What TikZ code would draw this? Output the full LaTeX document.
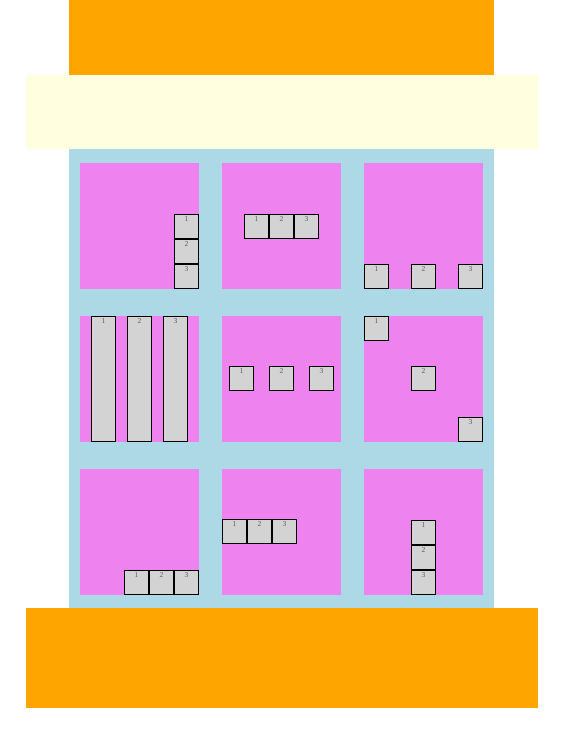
\documentclass[tikz,border=0pt]{standalone}
\usepackage{fontspec}
\setmainfont{Liberation Serif}
\usepackage{tikz}
\usetikzlibrary{positioning}
\definecolor{myorange}{RGB}{255,165,0}
\definecolor{myyellow}{RGB}{255,255,224}
\definecolor{myblue}{RGB}{173,216,230}
\definecolor{myviolet}{RGB}{238,130,238}
\definecolor{mygray}{RGB}{211,211,211}
\definecolor{mytext}{RGB}{90,90,100}
\tikzset{
  panel/.style={rectangle, fill=myviolet, anchor=north west,
    minimum width=119pt, minimum height=126pt, inner sep=0pt, outer sep=0pt},
  item/.style={rectangle, draw=black, fill=mygray, line width=1pt,
    minimum width=24pt, minimum height=24pt, inner sep=0pt, outer sep=0pt,
    anchor=north west, xshift=0.5pt, yshift=-0.5pt},
  tallitem/.style={item, minimum height=125pt},
  numlbl/.style={anchor=north, inner sep=2pt, text=mytext,
    font=\fontsize{7.5}{8}\selectfont}
}
\begin{document}
\begin{tikzpicture}[x=1pt,y=-1pt]
  \useasboundingbox (0,0) rectangle (566,753);

  % Page bands
  \fill[myorange] (69,0) rectangle (494,75);
  \fill[myyellow] (26,75) rectangle (538,149);
  \fill[myblue] (69,149) rectangle (494,608);
  \fill[myorange] (26,608) rectangle (538,708);

  % Panels
  \foreach \r/\y in {1/163, 2/316, 3/469}
    \foreach \c/\x in {1/80, 2/222, 3/364}
      \node[panel] (p\r\c) at (\x,\y) {};

  % Row 1
  \foreach \n/\x/\y in {1/174/214, 2/174/239, 3/174/264}
    \node[item, label={[numlbl]north:\n}] (a\n) at (\x,\y) {};
  \foreach \n/\x/\y in {1/244/214, 2/269/214, 3/294/214}
    \node[item, label={[numlbl]north:\n}] (b\n) at (\x,\y) {};
  \foreach \n/\x/\y in {1/364/264, 2/411/264, 3/458/264}
    \node[item, label={[numlbl]north:\n}] (c\n) at (\x,\y) {};

  % Row 2
  \foreach \n/\x/\y in {1/91/316, 2/127/316, 3/163/316}
    \node[tallitem, label={[numlbl]north:\n}] (d\n) at (\x,\y) {};
  \foreach \n/\x/\y in {1/229/366, 2/269/366, 3/309/366}
    \node[item, label={[numlbl]north:\n}] (e\n) at (\x,\y) {};
  \foreach \n/\x/\y in {1/364/316, 2/411/366, 3/458/417}
    \node[item, label={[numlbl]north:\n}] (f\n) at (\x,\y) {};

  % Row 3
  \foreach \n/\x/\y in {1/124/570, 2/149/570, 3/174/570}
    \node[item, label={[numlbl]north:\n}] (g\n) at (\x,\y) {};
  \foreach \n/\x/\y in {1/222/519, 2/247/519, 3/272/519}
    \node[item, label={[numlbl]north:\n}] (h\n) at (\x,\y) {};
  \foreach \n/\x/\y in {1/411/520, 2/411/545, 3/411/570}
    \node[item, label={[numlbl]north:\n}] (i\n) at (\x,\y) {};
\end{tikzpicture}
\end{document}
